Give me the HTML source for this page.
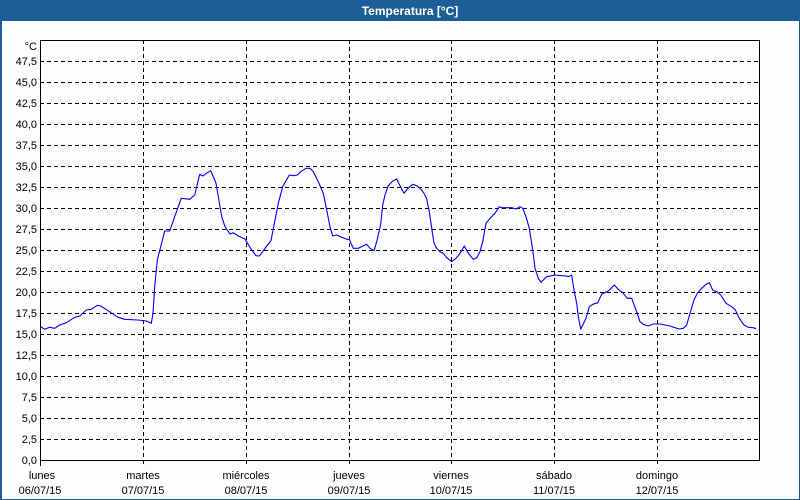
<!DOCTYPE html>
<html>
<head>
<meta charset="utf-8">
<style>
html,body{margin:0;padding:0;background:#fff;}
svg{display:block;}
text{font-family:"Liberation Sans",Tahoma,sans-serif;}
</style>
</head>
<body>
<svg width="800" height="500" viewBox="0 0 800 500" xmlns="http://www.w3.org/2000/svg">
  <rect x="0" y="0" width="800" height="500" fill="#1d5e96"/>
  <rect x="2" y="21" width="797" height="478" fill="#fcfdfc"/>
  <text x="410" y="15" font-size="12" font-weight="bold" fill="#ffffff" text-anchor="middle">Temperatura [°C]</text>

  <!-- horizontal grid -->
  <g stroke="#000" stroke-width="1" stroke-dasharray="4,3" shape-rendering="crispEdges">
    <line x1="40" y1="61.5" x2="760" y2="61.5"/>
    <line x1="40" y1="82.5" x2="760" y2="82.5"/>
    <line x1="40" y1="103.5" x2="760" y2="103.5"/>
    <line x1="40" y1="124.5" x2="760" y2="124.5"/>
    <line x1="40" y1="145.5" x2="760" y2="145.5"/>
    <line x1="40" y1="166.5" x2="760" y2="166.5"/>
    <line x1="40" y1="187.5" x2="760" y2="187.5"/>
    <line x1="40" y1="208.5" x2="760" y2="208.5"/>
    <line x1="40" y1="229.5" x2="760" y2="229.5"/>
    <line x1="40" y1="250.5" x2="760" y2="250.5"/>
    <line x1="40" y1="271.5" x2="760" y2="271.5"/>
    <line x1="40" y1="292.5" x2="760" y2="292.5"/>
    <line x1="40" y1="313.5" x2="760" y2="313.5"/>
    <line x1="40" y1="334.5" x2="760" y2="334.5"/>
    <line x1="40" y1="355.5" x2="760" y2="355.5"/>
    <line x1="40" y1="376.5" x2="760" y2="376.5"/>
    <line x1="40" y1="397.5" x2="760" y2="397.5"/>
    <line x1="40" y1="418.5" x2="760" y2="418.5"/>
    <line x1="40" y1="439.5" x2="760" y2="439.5"/>
    <!-- vertical grid -->
    <line x1="143.5" y1="40" x2="143.5" y2="466"/>
    <line x1="246.5" y1="40" x2="246.5" y2="466"/>
    <line x1="349.5" y1="40" x2="349.5" y2="466"/>
    <line x1="451.5" y1="40" x2="451.5" y2="466"/>
    <line x1="554.5" y1="40" x2="554.5" y2="466"/>
    <line x1="657.5" y1="40" x2="657.5" y2="466"/>
  </g>

  <!-- plot frame -->
  <rect x="40.5" y="40.5" width="719" height="420" fill="none" stroke="#000" stroke-width="1" shape-rendering="crispEdges"/>
  <line x1="40.5" y1="460" x2="40.5" y2="466" stroke="#000" stroke-width="1" shape-rendering="crispEdges"/>

  <!-- y labels -->
  <g font-size="11" fill="#000" text-anchor="end">
    <text x="37" y="50">°C</text>
    <text x="37" y="65">47,5</text>
    <text x="37" y="86">45,0</text>
    <text x="37" y="107">42,5</text>
    <text x="37" y="128">40,0</text>
    <text x="37" y="149">37,5</text>
    <text x="37" y="170">35,0</text>
    <text x="37" y="191">32,5</text>
    <text x="37" y="212">30,0</text>
    <text x="37" y="233">27,5</text>
    <text x="37" y="254">25,0</text>
    <text x="37" y="275">22,5</text>
    <text x="37" y="296">20,0</text>
    <text x="37" y="317">17,5</text>
    <text x="37" y="338">15,0</text>
    <text x="37" y="359">12,5</text>
    <text x="37" y="380">10,0</text>
    <text x="37" y="401">7,5</text>
    <text x="37" y="422">5,0</text>
    <text x="37" y="443">2,5</text>
    <text x="37" y="464">0,0</text>
  </g>

  <!-- x labels -->
  <g font-size="11" fill="#000" text-anchor="middle">
    <text x="42" y="479">lunes</text>
    <text x="40" y="494">06/07/15</text>
    <text x="143" y="479">martes</text>
    <text x="143" y="494">07/07/15</text>
    <text x="246" y="479">miércoles</text>
    <text x="246" y="494">08/07/15</text>
    <text x="349" y="479">jueves</text>
    <text x="349" y="494">09/07/15</text>
    <text x="451" y="479">viernes</text>
    <text x="451" y="494">10/07/15</text>
    <text x="554" y="479">sábado</text>
    <text x="554" y="494">11/07/15</text>
    <text x="657" y="479">domingo</text>
    <text x="657" y="494">12/07/15</text>
  </g>

  <!-- data line -->
  <polyline fill="none" stroke="#0000ff" stroke-width="1.1" stroke-linejoin="round" points="
40.7,326.7 44.7,329.3 49.7,327.3 54.7,328.3 59.7,325 66.3,322.7 74.7,317.3 79.7,316 86.3,310 91.3,309.3 97.3,305.3 100.7,306 108,310.7 118,317.3 124.7,319.3 138,320 146.3,321 151.3,323.3 153,313.3 154.7,286.7 157.3,260 160.7,246.7 164.7,231 169.7,231 174.7,216.7 181.3,198.3 189.7,199.3 194.7,195 199.7,174.3 203,176 206.3,173.3 210.7,170.7 214.7,180 216,183.3 218.3,196.7 221.7,216.7 225,226.7 230,234 233.3,232.7 238.3,236 245,239 250,247.3 256,255.7 259.3,256 262.7,251.7 266.7,246 271,240.7 275,220 278.3,203.3 282.7,186.7 289.3,175 293.3,175.7 297.3,175 300.7,171.7 306,168.3 310,168.3 313.3,171.7 318.3,181.7 323.3,193.3 326.7,210 330,226.7 332.7,236 336.7,235 341.7,237.3 346.7,239.3 349.3,239.3 353.3,248.3 358.3,248.3 366.7,244.3 370,248.3 374,250.7 376.7,241.7 380.7,224.3 382.7,205 385,195 388.3,185.7 392.7,181 396.7,179 400,185.7 404,193.3 407.3,189 412.7,184.3 416.7,185.7 420.7,189 424,193.3 426.7,199 429.3,211.7 431.7,228.3 434,243.3 436.7,248.3 440,251.7 443.3,253.3 446.7,257.7 451.7,261.7 456,258.3 460,253.3 464.3,246 468.3,253.3 473.3,259.3 476.7,257.7 480,251.7 482.7,241.7 486,223.3 490,218.3 495,213.3 499.3,206.7 501.7,207.7 506.7,207.7 511.7,207.7 516,209 520,206.7 522.7,208.3 526,216.7 529.3,228.3 532.7,250 535,268.3 538.3,278.3 541,282.3 543.3,280 546.7,276.7 551.7,275.7 555,275 561.7,275.7 566.7,276 568.3,276.7 571.7,275 574,290 576.7,303.3 578.3,316.7 580.7,329 583.3,324 586,318.3 589.3,306.7 592.7,304.3 597.7,302.7 601.7,294.3 608.3,291 614.3,285 618.3,289.3 622.7,292.7 627.3,298.3 631.7,298.3 636,310 640,321.7 643.3,324.3 648.3,326 653.3,324 660,324 665,325 670,326 675,327.7 679.3,329 683.3,328.3 686.7,325 690,313.3 694,300 697.3,293.3 701.7,288.3 706,284.3 709.3,282.7 712.7,290 716.7,291.7 720.7,295 726,303.3 731.7,306.7 735,309.3 739.3,318.3 744,325 748.3,327.3 753.3,327.7 756,328.7"/>
</svg>
</body>
</html>
